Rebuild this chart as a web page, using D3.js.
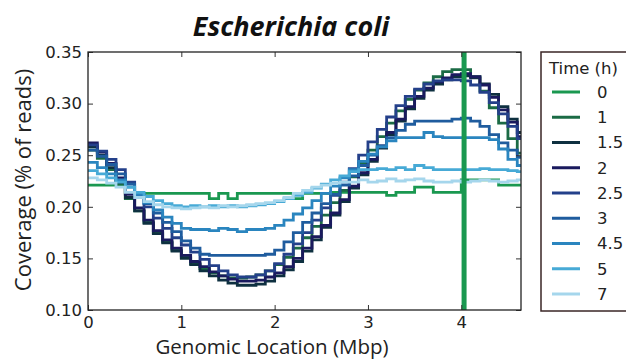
<!DOCTYPE html>
<html>
<head>
<meta charset="utf-8">
<script src="https://cdn.jsdelivr.net/npm/d3@7"></script>
<style>
  body { margin: 0; background: #fff; }
  svg { display: block; }
</style>
</head>
<body>
<div id="chart"></div>
<script>
// genomic positions (Mbp), one bin every 0.1 Mbp
const positions = d3.range(47).map(i => +(i * 0.1).toFixed(1));
const genomeEnd = 4.64;
const originMark = 4.03;

const timeLabels = ["0", "1", "1.5", "2", "2.5", "3", "4.5", "5", "7"];
const timeColors = ["#1a9850", "#1b6b45", "#0e3040", "#1a1a5e", "#24408a", "#1f5c9e", "#2a85bf", "#47aad6", "#a5d6ec"];

const cov0 = [0.221,0.221,0.221,0.221,0.213,0.213,0.213,0.213,0.213,0.213,0.213,0.213,0.213,0.208,0.213,0.208,0.213,0.213,0.213,0.213,0.213,0.213,0.208,0.213,0.213,0.213,0.214,0.214,0.214,0.214,0.214,0.214,0.211,0.214,0.214,0.219,0.219,0.214,0.214,0.214,0.226,0.226,0.226,0.226,0.221,0.221,0.221];
const cov1 = [0.255,0.247,0.236,0.222,0.208,0.196,0.185,0.175,0.166,0.158,0.151,0.145,0.140,0.136,0.133,0.131,0.131,0.132,0.134,0.138,0.144,0.151,0.160,0.170,0.181,0.192,0.204,0.216,0.229,0.242,0.255,0.268,0.281,0.293,0.304,0.313,0.320,0.326,0.331,0.333,0.333,0.326,0.312,0.296,0.281,0.266,0.252];
const cov15 = [0.258,0.250,0.238,0.224,0.209,0.196,0.184,0.174,0.165,0.157,0.150,0.144,0.138,0.133,0.129,0.126,0.124,0.124,0.125,0.128,0.133,0.139,0.147,0.157,0.168,0.180,0.192,0.205,0.218,0.231,0.244,0.257,0.270,0.283,0.295,0.305,0.313,0.319,0.323,0.326,0.327,0.325,0.319,0.309,0.297,0.285,0.272];
const cov2 = [0.262,0.253,0.242,0.228,0.212,0.199,0.187,0.177,0.168,0.160,0.153,0.147,0.142,0.137,0.133,0.130,0.128,0.128,0.129,0.132,0.136,0.142,0.150,0.160,0.171,0.182,0.194,0.207,0.220,0.233,0.246,0.259,0.272,0.285,0.297,0.307,0.315,0.321,0.325,0.328,0.329,0.326,0.318,0.306,0.294,0.282,0.268];
const cov25 = [0.260,0.254,0.246,0.236,0.224,0.212,0.200,0.189,0.179,0.170,0.163,0.156,0.149,0.143,0.138,0.134,0.132,0.132,0.134,0.138,0.145,0.154,0.164,0.175,0.187,0.199,0.211,0.224,0.237,0.250,0.263,0.275,0.287,0.298,0.307,0.314,0.319,0.322,0.323,0.323,0.322,0.318,0.311,0.301,0.290,0.278,0.266];
const cov3 = [0.255,0.249,0.241,0.232,0.222,0.212,0.203,0.194,0.185,0.176,0.167,0.160,0.154,0.153,0.153,0.153,0.153,0.153,0.153,0.154,0.158,0.166,0.175,0.185,0.194,0.203,0.212,0.221,0.230,0.240,0.250,0.259,0.267,0.274,0.280,0.283,0.283,0.283,0.283,0.285,0.286,0.283,0.278,0.270,0.262,0.255,0.248];
const cov45 = [0.243,0.238,0.232,0.226,0.219,0.212,0.204,0.197,0.190,0.184,0.179,0.178,0.178,0.177,0.179,0.178,0.176,0.178,0.178,0.179,0.182,0.187,0.193,0.199,0.206,0.213,0.220,0.228,0.236,0.244,0.251,0.258,0.264,0.267,0.267,0.267,0.272,0.268,0.267,0.267,0.267,0.267,0.267,0.265,0.256,0.246,0.240];
const cov5 = [0.235,0.232,0.228,0.224,0.219,0.214,0.210,0.206,0.203,0.201,0.200,0.201,0.200,0.201,0.200,0.201,0.200,0.201,0.202,0.203,0.205,0.208,0.211,0.214,0.218,0.222,0.226,0.230,0.234,0.236,0.236,0.237,0.236,0.238,0.236,0.240,0.238,0.236,0.236,0.236,0.236,0.236,0.237,0.236,0.236,0.235,0.234];
const cov7 = [0.228,0.226,0.223,0.219,0.214,0.209,0.205,0.202,0.200,0.199,0.198,0.199,0.200,0.199,0.201,0.200,0.201,0.202,0.203,0.204,0.206,0.209,0.213,0.216,0.219,0.221,0.223,0.224,0.224,0.226,0.224,0.225,0.227,0.225,0.226,0.227,0.225,0.224,0.224,0.225,0.224,0.225,0.226,0.225,0.224,0.225,0.226];

const coverage = [cov0, cov1, cov15, cov2, cov25, cov3, cov45, cov5, cov7];

const xTicks = [0, 1, 2, 3, 4];
const yTicks = [0.10, 0.15, 0.20, 0.25, 0.30, 0.35];

const width = 626, height = 359;
const margin = { top: 52, right: 105, bottom: 49, left: 88 };

const svg = d3.select("#chart").append("svg")
  .attr("width", width).attr("height", height);

const x = d3.scaleLinear().domain([0, genomeEnd]).range([margin.left, width - margin.right]);
const y = d3.scaleLinear().domain([0.10, 0.35]).range([height - margin.bottom, margin.top]);

const plotW = x.range()[1] - x.range()[0];
const plotH = y.range()[0] - y.range()[1];

svg.append("defs").append("clipPath").attr("id", "plotclip")
  .append("rect")
  .attr("x", margin.left).attr("y", margin.top)
  .attr("width", plotW).attr("height", plotH);

// lines
const line = d3.line()
  .x(d => x(d[0]))
  .y(d => y(d[1]))
  .curve(d3.curveStepAfter);

const lines = svg.append("g").attr("clip-path", "url(#plotclip)");
coverage.forEach((vals, i) => {
  const pts = positions.map((p, j) => [p, vals[j]]);
  pts.push([genomeEnd, vals[vals.length - 1]]);
  lines.append("path")
    .attr("d", line(pts))
    .attr("fill", "none")
    .attr("stroke", timeColors[i])
    .attr("stroke-width", 2.8)
    .attr("stroke-linejoin", "miter");
});

// origin marker
lines.append("line")
  .attr("x1", x(originMark)).attr("x2", x(originMark))
  .attr("y1", margin.top).attr("y2", height - margin.bottom)
  .attr("stroke", "#1a9850")
  .attr("stroke-width", 5);

// axes, ticks pointing inward (classic matplotlib)
const tickFont = "DejaVu Sans";
const gx = svg.append("g")
  .attr("transform", `translate(0,${height - margin.bottom})`)
  .call(d3.axisBottom(x).tickValues(xTicks).tickFormat(d3.format("d")).tickSizeInner(-5).tickSizeOuter(0).tickPadding(6));
const gxTop = svg.append("g")
  .attr("transform", `translate(0,${margin.top})`)
  .call(d3.axisTop(x).tickValues(xTicks).tickFormat("").tickSizeInner(-5).tickSizeOuter(0));
const gy = svg.append("g")
  .attr("transform", `translate(${margin.left},0)`)
  .call(d3.axisLeft(y).tickValues(yTicks).tickFormat(d3.format(".2f")).tickSizeInner(-5).tickSizeOuter(0).tickPadding(6));
const gyRight = svg.append("g")
  .attr("transform", `translate(${width - margin.right},0)`)
  .call(d3.axisRight(y).tickValues(yTicks).tickFormat("").tickSizeInner(-5).tickSizeOuter(0));

[gx, gxTop, gy, gyRight].forEach(g => {
  g.select(".domain").remove();
  g.selectAll("line").attr("stroke", "#333").attr("stroke-width", 1);
  g.selectAll("text").style("font-family", tickFont).style("font-size", "16.5px").attr("fill", "#222");
});

// frame
svg.append("rect")
  .attr("x", margin.left).attr("y", margin.top)
  .attr("width", plotW).attr("height", plotH)
  .attr("fill", "none")
  .attr("stroke", "#222")
  .attr("stroke-width", 1.3);

// title and axis labels
svg.append("text")
  .attr("x", 291).attr("y", 36)
  .attr("text-anchor", "middle")
  .style("font-family", "Open Sans")
  .style("font-style", "italic")
  .style("font-weight", 700)
  .style("font-size", "27px")
  .attr("fill", "#111")
  .text("Escherichia coli");

svg.append("text")
  .attr("transform", "rotate(-90)")
  .attr("x", -180).attr("y", 31)
  .attr("text-anchor", "middle")
  .style("font-family", "Open Sans")
  .style("font-size", "22px")
  .attr("fill", "#222")
  .text("Coverage (% of reads)");

svg.append("text")
  .attr("x", 272).attr("y", 354)
  .attr("text-anchor", "middle")
  .style("font-family", "Open Sans")
  .style("font-size", "20.5px")
  .attr("fill", "#222")
  .text("Genomic Location (Mbp)");

// legend
const legend = svg.append("g");
legend.append("rect")
  .attr("x", 541).attr("y", 52)
  .attr("width", 100).attr("height", 259)
  .attr("fill", "#fff")
  .attr("stroke", "#3a2626")
  .attr("stroke-width", 1.5);

legend.append("text")
  .attr("x", 549).attr("y", 74)
  .style("font-family", tickFont)
  .style("font-size", "16.5px")
  .attr("fill", "#222")
  .text("Time (h)");

timeLabels.forEach((lab, i) => {
  const ly = 92 + i * 25.25;
  legend.append("line")
    .attr("x1", 552).attr("x2", 580)
    .attr("y1", ly).attr("y2", ly)
    .attr("stroke", timeColors[i])
    .attr("stroke-width", 3);
  legend.append("text")
    .attr("x", 597).attr("y", ly)
    .attr("dy", "0.36em")
    .style("font-family", tickFont)
    .style("font-size", "16.5px")
    .attr("fill", "#222")
    .text(lab);
});
</script>
</body>
</html>
